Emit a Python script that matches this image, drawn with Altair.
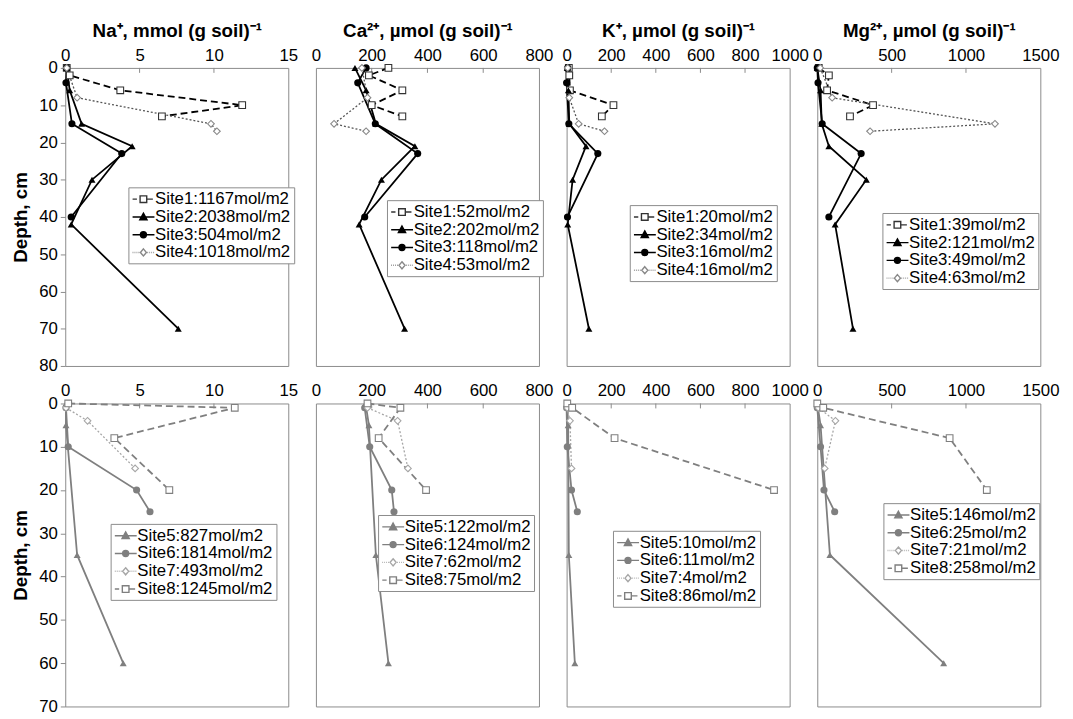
import altair as alt
import pandas as pd

FONT = "Liberation Sans"
GRID = "#8a8a8a"

# ---------------- data ----------------
ION_TITLES = ["Na⁺, mmol (g soil)⁻¹", "Ca²⁺, µmol (g soil)⁻¹", "K⁺, µmol (g soil)⁻¹", "Mg²⁺, µmol (g soil)⁻¹"]
X_MAX = [15, 800, 1000, 1500]
X_TICKS = [[0, 5, 10, 15], [0, 200, 400, 600, 800], [0, 200, 400, 600, 800, 1000], [0, 500, 1000, 1500]]
Y_TICKS_TOP = [0, 10, 20, 30, 40, 50, 60, 70, 80]
Y_TICKS_BOT = [0, 10, 20, 30, 40, 50, 60, 70]

TOP_SITES = ["Site1", "Site2", "Site3", "Site4"]
BOT_SITES = ["Site5", "Site6", "Site7", "Site8"]

DEPTH_TOP = {"Site1": [0, 2, 6, 10, 13], "Site2": [0, 6, 15, 21, 30, 42, 70],
             "Site3": [0, 4, 15, 23, 40], "Site4": [0, 8, 15, 17]}
DEPTH_BOT = {"Site5": [0, 5, 35, 60], "Site6": [1, 10, 20, 25],
             "Site7": [1, 4, 15], "Site8": [0, 1, 8, 20]}

NA_TOP = {"Site1": [0.1, 0.3, 3.7, 11.9, 6.5], "Site2": [0.1, 0.3, 1.1, 4.5, 1.8, 0.4, 7.6],
          "Site3": [0.1, 0.05, 0.45, 3.8, 0.4], "Site4": [0.1, 0.8, 9.8, 10.2]}
CA_TOP = {"Site1": [260, 190, 310, 200, 310], "Site2": [140, 180, 215, 355, 235, 155, 318],
          "Site3": [180, 150, 213, 365, 175], "Site4": [165, 185, 65, 180]}
K_TOP = {"Site1": [10, 12, 15, 210, 158], "Site2": [3, 8, 12, 87, 27, 5, 100],
         "Site3": [5, 0, 10, 140, 4], "Site4": [5, 12, 54, 170]}
MG_TOP = {"Site1": [10, 78, 66, 375, 220], "Site2": [0, 22, 30, 78, 330, 120, 240],
          "Site3": [0, 5, 33, 295, 78], "Site4": [20, 100, 1195, 355]}

NA_BOT = {"Site5": [0.05, 0.05, 0.8, 3.9], "Site6": [0.05, 0.2, 4.8, 5.7],
          "Site7": [0.05, 1.5, 4.7], "Site8": [0.2, 11.4, 3.3, 7.0]}
CA_BOT = {"Site5": [178, 190, 215, 260], "Site6": [175, 193, 272, 280],
          "Site7": [185, 293, 330], "Site8": [185, 303, 225, 395]}
K_BOT = {"Site5": [3, 7, 10, 37], "Site6": [0, 3, 22, 48],
         "Site7": [3, 15, 22], "Site8": [3, 25, 215, 930]}
MG_BOT = {"Site5": [0, 22, 85, 850], "Site6": [0, 22, 45, 117],
          "Site7": [7, 122, 50], "Site8": [0, 40, 890, 1140]}

TOTALS_TOP = [[1167, 2038, 504, 1018], [52, 202, 118, 53], [20, 34, 16, 16], [39, 121, 49, 63]]
TOTALS_BOT = [[827, 1814, 493, 1245], [122, 124, 62, 75], [10, 11, 4, 86], [146, 25, 21, 258]]

VALUES_TOP = [NA_TOP, CA_TOP, K_TOP, MG_TOP]
VALUES_BOT = [NA_BOT, CA_BOT, K_BOT, MG_BOT]

# legend placement (pixels from plot's top-left)
LEG_TOP = [(64, 121), (72, 134), (64, 139), (66, 147)]
LEG_BOT = [(46, 122), (63, 113), (47, 129), (67, 101)]

# ---------------- styles ----------------
BLACK = "#000000"
DARK = "#555555"
GRAY = "#7f7f7f"
LIGHT = "#a6a6a6"

STYLE = {
    "Site1": dict(color=BLACK, mcolor="#333333", dash=[7, 4], width=1.8, shape="square", open=True, kind="dash_sq"),
    "Site2": dict(color=BLACK, mcolor=BLACK, dash=None, width=1.8, shape="triangle-up", open=False, kind="tri"),
    "Site3": dict(color=BLACK, mcolor=BLACK, dash=None, width=1.8, shape="circle", open=False, kind="circ"),
    "Site4": dict(color=DARK, mcolor="#888888", dash=[2, 2], width=1.3, shape="diamond", open=True, kind="dot_dia"),
    "Site5": dict(color=GRAY, mcolor=GRAY, dash=None, width=1.8, shape="triangle-up", open=False, kind="tri"),
    "Site6": dict(color=GRAY, mcolor=GRAY, dash=None, width=1.8, shape="circle", open=False, kind="circ"),
    "Site7": dict(color=LIGHT, mcolor=LIGHT, dash=[2, 2], width=1.3, shape="diamond", open=True, kind="dot_dia"),
    "Site8": dict(color=GRAY, mcolor=GRAY, dash=[7, 4], width=1.8, shape="square", open=True, kind="dash_sq"),
}

# legend symbol paths (line + marker), units of sqrt(size)/2
CX = 0.4
H = 0.42
LEFT = -0.97
RIGHT = 1.8


def _f(v):
    return f"{v:.3f}"


def legend_path(kind):
    if kind == "dash_sq":
        return (f"M{_f(LEFT)},0L{_f(LEFT + 0.55)},0 "
                f"M{_f(CX - H)},{_f(-H)}L{_f(CX + H)},{_f(-H)}L{_f(CX + H)},{_f(H)}L{_f(CX - H)},{_f(H)}Z "
                f"M{_f(CX + H)},0L{_f(RIGHT - 0.2)},0")
    if kind == "tri":
        return (f"M{_f(LEFT)},0L{_f(RIGHT)},0 "
                f"M{_f(CX)},{_f(-0.48)}L{_f(CX + 0.46)},{_f(0.36)}L{_f(CX - 0.46)},{_f(0.36)}Z")
    if kind == "circ":
        r = 0.38
        return (f"M{_f(LEFT)},0L{_f(RIGHT)},0 "
                f"M{_f(CX - r)},0A{r},{r} 0 1,0 {_f(CX + r)},0A{r},{r} 0 1,0 {_f(CX - r)},0Z")
    # dotted + diamond
    dots = ""
    x = LEFT
    while x < CX - 0.45:
        dots += f"M{_f(x)},0L{_f(x + 0.1)},0 "
        x += 0.25
    x = CX + 0.5
    while x < RIGHT:
        dots += f"M{_f(x)},0L{_f(x + 0.1)},0 "
        x += 0.25
    return dots + (f"M{_f(CX)},{_f(-0.45)}L{_f(CX + 0.38)},0L{_f(CX)},{_f(0.45)}L{_f(CX - 0.38)},0Z")


def make_panel(row, col):
    sites = TOP_SITES if row == 0 else BOT_SITES
    depths = DEPTH_TOP if row == 0 else DEPTH_BOT
    values = (VALUES_TOP if row == 0 else VALUES_BOT)[col]
    totals = (TOTALS_TOP if row == 0 else TOTALS_BOT)[col]
    labels = [f"{s}:{t}mol/m2" for s, t in zip(sites, totals)]

    recs = []
    for s, lab in zip(sites, labels):
        for i, (d, v) in enumerate(zip(depths[s], values[s])):
            recs.append(dict(site=s, label=lab, depth=d, value=v, seq=i))
    df = pd.DataFrame(recs)

    ymax = 80 if row == 0 else 70
    yticks = Y_TICKS_TOP if row == 0 else Y_TICKS_BOT

    xaxis_kw = dict(orient="top", values=X_TICKS[col], format="d", ticks=False, domain=False, grid=False,
                    labelFontSize=17, labelPadding=4, labelFlush=False, labelOverlap=False,
                    titleFontSize=19, titleFontWeight="bold", titlePadding=6,
                    title=ION_TITLES[col] if row == 0 else "")
    x_enc = alt.X("value:Q", scale=alt.Scale(domain=[0, X_MAX[col]], nice=False, zero=True),
                  axis=alt.Axis(**xaxis_kw))
    if col == 0:
        y_enc = alt.Y("depth:Q", scale=alt.Scale(domain=[0, ymax], reverse=True, nice=False),
                      axis=alt.Axis(values=yticks, title="Depth, cm", titleFontSize=19, titleFontWeight="bold",
                                    labelFontSize=17, tickSize=5, tickColor=GRID, domain=False, grid=False,
                                    labelPadding=3, titlePadding=8))
    else:
        y_enc = alt.Y("depth:Q", scale=alt.Scale(domain=[0, ymax], reverse=True, nice=False), axis=None)

    layers = []
    # inward ticks on top edge
    inner = pd.DataFrame({"value": X_TICKS[col][1:-1]})
    layers.append(alt.Chart(inner).mark_rule(color=GRID, strokeWidth=1).encode(
        x=x_enc, y=alt.value(0), y2=alt.value(5)))

    for s in sites:
        st = STYLE[s]
        sub = df[df.site == s]
        line_kw = dict(color=st["color"], strokeWidth=st["width"])
        if st["dash"]:
            line_kw["strokeDash"] = st["dash"]
        layers.append(alt.Chart(sub).mark_line(**line_kw).encode(x=x_enc, y=y_enc, order="seq:Q"))
    for s in sites:
        st = STYLE[s]
        sub = df[df.site == s]
        if st["open"]:
            pt = alt.Chart(sub).mark_point(shape=st["shape"], filled=True, fill="white", stroke=st["mcolor"],
                                           strokeWidth=1.1, size=46, opacity=1)
        else:
            pt = alt.Chart(sub).mark_point(shape=st["shape"], filled=True, color=st["mcolor"],
                                           size=52 if st["shape"] == "circle" else 50, opacity=1)
        layers.append(pt.encode(x=x_enc, y=y_enc))

    lx, ly = (LEG_TOP if row == 0 else LEG_BOT)[col]
    leg = alt.Legend(orient="none", legendX=lx, legendY=ly, title=None, strokeColor=GRID, fillColor="white",
                     padding=3, labelFont=FONT, labelFontSize=17, labelColor="black", labelOffset=6,
                     symbolSize=256, symbolStrokeWidth=1.4, symbolOpacity=1, rowPadding=1, cornerRadius=0,
                     labelLimit=300)
    paths = [legend_path(STYLE[s]["kind"]) for s in sites]
    fills = ["white" if STYLE[s]["open"] else STYLE[s]["mcolor"] for s in sites]
    strokes = [STYLE[s]["color"] if not STYLE[s]["open"] else STYLE[s]["mcolor"] for s in sites]
    carrier = alt.Chart(df).transform_filter("false").mark_point(filled=True, strokeWidth=1.4).encode(
        x=x_enc, y=y_enc,
        shape=alt.Shape("label:N", scale=alt.Scale(domain=labels, range=paths), legend=leg),
        fill=alt.Fill("label:N", scale=alt.Scale(domain=labels, range=fills), legend=leg),
        stroke=alt.Stroke("label:N", scale=alt.Scale(domain=labels, range=strokes), legend=leg),
    )
    layers.append(carrier)

    return alt.layer(*layers).properties(width=226, height=302 if row == 0 else 307)


panels = [make_panel(r, c) for r in range(2) for c in range(4)]

chart = alt.concat(*panels, columns=4, spacing={"row": 38, "column": 28}, bounds="flush").resolve_scale(
    shape="independent", fill="independent", stroke="independent"
).properties(
    padding={"left": 3, "top": 8, "right": 5, "bottom": 0}
).configure(
    font=FONT
).configure_view(
    stroke=GRID, strokeWidth=1
).configure_axis(
    labelColor="black", titleColor="black", labelFont=FONT, titleFont=FONT
)

chart.save("out.html", embed_options={"renderer": "svg", "actions": False})
